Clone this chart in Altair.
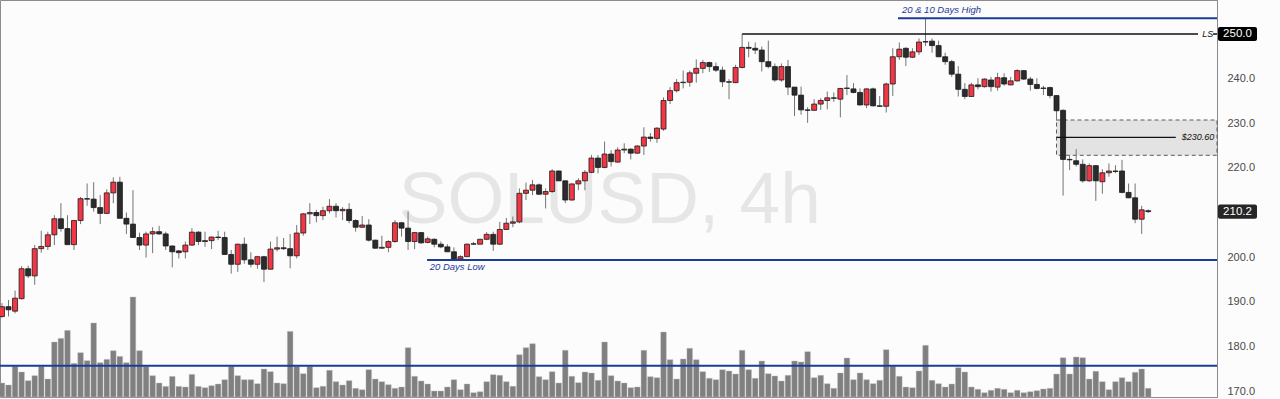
import altair as alt
import pandas as pd

# ---------------- data ----------------
opens = [186.7,188.9,187.9,190.7,197.4,195.8,201.9,202.4,205.0,208.6,206.4,202.8,208.2,213.1,213.0,211.1,209.8,214.4,216.8,208.7,
         207.4,204.4,202.7,205.2,205.7,205.2,202.5,201.4,201.2,202.7,205.6,203.5,203.7,204.5,204.4,200.6,198.4,202.9,199.4,198.4,
         200.1,197.3,201.8,202.1,201.9,200.3,205.4,209.7,210.0,209.3,210.4,211.4,210.4,210.7,208.2,206.7,207.2,203.8,202.0,202.2,
         203.5,207.7,206.5,203.5,205.5,203.3,204.0,202.9,202.3,201.2,199.6,200.1,202.9,202.9,204.0,205.1,202.9,206.2,207.6,207.9,
         214.3,215.0,216.2,214.1,214.7,219.3,217.1,212.8,216.4,217.1,219.0,222.2,220.1,223.1,221.3,224.0,224.2,223.3,224.9,226.9,
         226.6,228.7,235.1,237.3,239.1,239.2,241.2,242.3,243.6,242.7,241.9,239.3,239.1,242.5,247.0,246.8,246.4,243.8,242.7,239.7,
         242.7,238.1,236.3,233.0,232.9,234.3,235.1,235.7,235.4,237.8,237.7,236.9,234.1,237.7,233.9,233.8,238.8,244.9,246.8,244.8,
         246.0,248.2,248.4,247.4,244.9,243.8,241.0,237.6,236.0,238.6,238.2,239.7,238.1,240.2,238.6,239.5,241.8,239.9,238.7,237.8,
         238.0,236.2,232.9,221.9,221.6,220.8,217.1,220.5,216.9,218.9,219.3,219.3,214.5,213.3,208.5,210.4]
highs = [189.7,190.4,192.5,198.0,198.1,202.7,205.9,205.7,209.4,212.1,209.4,208.2,213.5,216.5,216.8,213.9,215.2,217.9,218.0,210.0,
         215.0,205.5,205.7,206.7,207.0,205.7,202.6,201.6,203.5,206.5,205.8,205.7,204.6,205.9,205.7,201.6,203.0,204.4,201.1,200.3,
         200.3,203.5,204.6,204.3,205.2,207.2,209.8,212.1,210.6,211.3,213.0,212.1,211.2,212.1,208.5,209.2,208.5,203.9,204.8,203.8,
         208.3,207.9,210.2,205.6,205.6,204.6,204.2,203.5,202.9,202.2,200.4,203.1,203.4,204.1,205.6,205.7,207.9,208.8,209.1,215.4,
         216.7,217.3,216.5,215.4,219.7,219.4,217.2,216.5,217.7,219.5,222.9,222.9,225.9,224.0,224.6,225.5,224.4,225.1,229.1,227.8,
         229.1,235.8,238.1,239.9,241.8,241.8,244.3,244.2,243.8,243.6,242.7,239.9,243.1,250.0,248.3,248.1,247.2,248.5,243.4,243.4,
         244.2,238.1,238.2,233.6,235.4,235.6,237.1,236.9,237.9,240.8,239.0,237.8,237.8,238.0,236.1,239.1,246.8,248.1,247.0,246.8,
         249.0,253.5,249.0,248.5,245.8,244.2,242.8,239.0,239.1,240.1,240.1,240.4,241.3,241.2,240.4,242.1,241.9,240.4,240.1,238.4,
         238.2,236.3,233.1,222.9,224.2,221.9,221.0,220.6,219.7,221.0,220.6,221.8,216.5,216.5,211.5,210.7]
lows = [186.4,186.7,187.4,190.5,195.3,193.8,201.0,201.6,202.7,205.7,202.8,201.6,207.4,211.5,210.2,207.4,209.8,212.1,208.7,205.2,
        204.4,201.6,199.9,200.9,205.0,201.6,197.7,199.7,199.7,202.5,202.7,202.3,201.8,203.8,200.6,196.3,196.7,198.5,197.7,197.4,
        194.4,197.2,201.3,201.6,197.5,199.7,204.8,207.4,207.8,208.3,209.8,208.9,208.3,207.6,205.7,206.6,203.5,201.9,201.9,201.1,
        203.2,204.6,201.6,201.8,203.0,203.1,202.2,202.0,201.2,199.5,199.4,200.0,202.7,202.9,203.8,201.4,202.7,206.1,206.7,207.6,
        212.8,213.9,213.9,210.9,214.4,217.0,212.1,212.7,215.0,215.0,218.8,218.8,219.9,220.3,221.2,223.3,221.9,223.1,222.9,225.9,
        225.6,228.3,234.3,236.9,237.8,238.2,239.1,241.2,241.5,241.5,238.1,235.4,239.0,242.3,244.8,245.5,241.6,242.3,239.3,239.3,
        236.3,231.6,231.9,230.1,232.8,233.0,233.1,234.8,231.3,236.3,236.7,234.0,233.4,233.8,233.7,232.4,236.1,244.2,242.8,244.6,
        245.3,247.3,245.8,244.8,243.1,240.4,236.0,235.4,235.9,237.6,238.0,237.1,237.3,238.4,238.5,239.3,239.7,237.3,237.6,236.3,
        235.6,230.6,213.8,219.5,220.3,216.7,216.9,212.6,214.2,218.0,218.8,214.3,213.2,207.6,205.2,209.9]
closes = [188.9,188.2,190.8,197.4,195.8,201.9,202.4,205.0,208.6,206.4,202.8,208.2,213.1,213.0,211.1,209.8,214.4,216.8,208.7,207.4,
          204.4,202.7,205.2,205.7,205.2,202.5,201.2,201.0,202.7,205.6,203.5,203.7,204.5,204.4,200.6,198.4,202.9,199.4,198.4,200.1,
          197.3,201.8,202.1,201.9,200.3,205.4,209.7,210.0,209.3,210.4,211.4,210.4,210.7,208.2,206.7,207.2,203.8,202.0,202.2,203.5,
          207.7,206.5,203.5,205.5,203.2,204.1,202.9,202.3,201.2,199.6,200.1,202.9,203.0,204.0,205.1,202.9,206.2,207.6,207.9,214.3,
          215.0,216.2,214.1,214.7,219.3,217.1,212.8,216.4,217.1,219.0,222.2,220.1,223.1,221.4,224.0,224.2,223.3,224.9,226.9,226.6,
          228.9,235.1,237.3,239.1,239.2,241.3,242.3,243.6,242.7,241.9,239.3,239.2,242.5,247.0,246.8,246.4,243.8,242.7,239.7,242.7,
          238.1,236.3,233.0,232.9,234.3,235.1,235.7,235.6,237.8,237.9,236.9,234.1,237.7,233.9,233.8,238.8,244.9,246.6,244.8,246.0,
          248.2,248.3,247.4,244.9,243.8,241.0,237.6,236.0,238.6,238.2,239.9,238.2,240.2,238.8,239.5,241.8,239.9,238.7,237.8,237.9,
          236.2,232.8,221.9,221.8,220.8,217.1,220.5,217.1,218.9,219.3,219.2,214.5,213.3,208.5,210.6,210.2]
volumes = [14.0,12.0,30.6,25.0,16.3,21.3,30.6,18.0,55.0,58.6,66.6,33.6,44.3,36.3,74.0,34.3,37.6,46.3,40.6,34.3,
           100.0,46.3,30.6,21.3,14.0,10.6,20.6,10.6,10.0,22.6,10.6,9.3,11.3,13.0,17.3,30.6,21.3,17.3,17.3,13.3,
           28.0,25.3,14.0,13.3,65.6,30.6,23.3,30.6,9.3,10.7,26.7,15.3,12.0,16.3,8.7,7.3,27.3,18.0,15.3,12.3,
           8.7,10.0,49.3,20.7,16.0,13.0,6.0,6.0,10.0,17.3,7.3,13.0,4.3,5.3,15.3,22.3,21.7,15.3,10.7,42.3,
           49.3,53.3,20.3,17.3,25.3,14.0,46.7,20.7,14.3,25.0,24.0,16.7,55.0,21.3,16.0,14.0,9.3,10.0,46.7,20.3,
           19.3,65.0,37.3,18.0,38.0,48.7,37.3,25.3,18.7,17.3,27.3,26.0,23.0,46.7,27.3,18.7,36.0,23.3,21.0,16.0,
           21.7,36.0,35.0,45.3,19.3,21.7,13.3,8.7,24.0,39.0,17.3,24.0,17.3,13.3,16.7,47.3,30.7,20.7,10.0,9.3,
           26.0,51.7,16.7,13.3,10.0,13.0,29.3,25.0,10.0,7.7,4.3,6.7,8.7,7.7,4.3,6.7,4.3,5.3,6.3,8.0,
           8.7,23.0,39.3,23.0,40.0,39.3,18.0,25.7,15.3,7.3,15.3,19.3,15.3,24.7,28.0,8.7]
volume_avg = 31.3

price_ticks = [170, 180, 190, 200, 220, 230, 240]

# horizontal levels (start bar, end bar, price, colour)
level_names = ["LS", "LS tail", "20 & 10 Days High", "20 Days Low", "Zone mid"]
level_start = [113, 184.9, 136.8, 64.9, 161.0]
level_end = [182.6, 185.5, 185.5, 185.5, 179.2]
level_price = [250.0, 250.0, 253.55, 199.36, 226.85]
level_color = ["#111111", "#111111", "#1d3b98", "#1d3b98", "#111111"]
level_width = [1.5, 1.5, 2, 2, 1.2]

zone_start, zone_end = 161.0, 185.5
zone_top, zone_bottom = 230.73, 222.82

tag_prices = [250.0, 210.2]
tag_labels = ["250.0", "210.2"]
tag_fills = ["#000000", "#262626"]

X_DOMAIN = [-0.3, 185.5]
Y_DOMAIN = [168.66, 257.62]

df = pd.DataFrame({"i": list(range(len(opens))), "open": opens, "high": highs,
                   "low": lows, "close": closes, "vol": volumes})
df["dir"] = ["up" if c >= o else "down" for o, c in zip(opens, closes)]

xs = alt.Scale(domain=X_DOMAIN, nice=False, zero=False, padding=0)
ys = alt.Scale(domain=Y_DOMAIN, nice=False, zero=False, padding=0)
vs = alt.Scale(domain=[0, 397], nice=False, zero=True, padding=0)

def X(f):
    return alt.X(f, type="quantitative", scale=xs, axis=None)

def Y(f):
    return alt.Y(f, type="quantitative", scale=ys, axis=None)

base = alt.Chart(df)

# watermark
wm = alt.Chart(pd.DataFrame({"i": [92.8], "p": [207.65], "t": ["SOLUSD, 4h"]})).mark_text(
    font="Liberation Sans", fontSize=73, color="#e6e6e6", align="center", baseline="alphabetic"
).encode(x=X("i"), y=Y("p"), text="t:N")

# zone
zone = alt.Chart(pd.DataFrame({"a": [zone_start], "b": [zone_end], "t": [zone_top], "u": [zone_bottom]})).mark_rect(
    fill="#e3e3e3", stroke="#5a5a5a", strokeDash=[4, 3], strokeWidth=1
).encode(x=X("a"), x2="b:Q", y=Y("t"), y2="u:Q")

# volume
vol = base.mark_bar(size=5.6, color="#808080", stroke="#bcbcbc", strokeWidth=0.4).encode(
    x=X("i"), y=alt.Y("vol:Q", scale=vs, axis=None))
vavg = alt.Chart(pd.DataFrame({"a": [X_DOMAIN[0]], "b": [X_DOMAIN[1]], "v": [volume_avg]})).mark_rule(
    color="#1d3b98", strokeWidth=2).encode(x=X("a"), x2="b:Q", y=alt.Y("v:Q", scale=vs, axis=None))

# candles
wick = base.mark_rule(color="#747474", strokeWidth=1).encode(x=X("i"), y=Y("low"), y2="high:Q")
body = base.mark_bar(size=5, stroke="#1b1b1b", strokeWidth=0.8).encode(
    x=X("i"),
    y=alt.Y("open:Q", scale=ys, axis=alt.Axis(orient="right", values=price_ticks, format=".1f",
                                               labelFont="Liberation Sans", labelFontSize=11,
                                               labelColor="#4a4a4a", ticks=False, labelPadding=10,
                                               domainColor="#8a8a8a", grid=False, title=None)),
    y2="close:Q",
    color=alt.Color("dir:N", scale=alt.Scale(domain=["up", "down"], range=["#f23645", "#2b2b2b"]), legend=None),
)

lv = pd.DataFrame({"name": level_names, "a": level_start, "b": level_end, "p": level_price,
                   "c": level_color, "w": level_width})
levels = alt.Chart(lv).mark_rule().encode(
    x=X("a"), x2="b:Q", y=Y("p"),
    color=alt.Color("c:N", scale=None), strokeWidth=alt.StrokeWidth("w:Q", scale=None))

notes = pd.DataFrame({
    "i": [137.4, 65.3, 184.1, 182.6],
    "p": [255.38, 197.8, 250.0, 226.9],
    "t": ["20 & 10 Days High", "20 Days Low", "LS", "$230.60"],
    "c": ["#1d3b98", "#1d3b98", "#111111", "#111111"],
    "al": ["left", "left", "center", "center"],
})
note_l = alt.Chart(notes[notes.al == "left"]).mark_text(
    font="Liberation Sans", fontStyle="italic", fontSize=9.5, align="left", baseline="middle"
).encode(x=X("i"), y=Y("p"), text="t:N", color=alt.Color("c:N", scale=None))
note_c = alt.Chart(notes[notes.al == "center"]).mark_text(
    font="Liberation Sans", fontStyle="italic", fontSize=9, align="center", baseline="middle"
).encode(x=X("i"), y=Y("p"), text="t:N", color=alt.Color("c:N", scale=None))

tags = pd.DataFrame({"p": tag_prices, "t": tag_labels, "f": tag_fills})
tag_box = alt.Chart(tags).transform_calculate(top="datum.p + 1.57", bot="datum.p - 1.57").mark_rect(
    cornerRadius=2).encode(
    x=alt.value(1218), x2=alt.value(1257), y=Y("top"), y2="bot:Q", color=alt.Color("f:N", scale=None))
tag_txt = alt.Chart(tags).mark_text(font="Liberation Sans", fontSize=11.5, fontWeight=500, color="#ffffff",
                                    align="center", baseline="middle").encode(
    x=alt.value(1237.5), y=Y("p"), text="t:N")

chart = alt.layer(wm, zone, vol, vavg, wick, body, levels, note_l, note_c, tag_box, tag_txt).resolve_scale(
    y="independent"
).properties(
    width=1217, height=397,
    autosize=alt.AutoSizeParams(type="none"),
    padding={"left": 0, "top": 0, "right": 63, "bottom": 2},
    background="#fcfcfc",
).configure_view(stroke="#8c8c8c", strokeWidth=1)

chart.save("out.html", embed_options={"renderer": "svg", "actions": False})
